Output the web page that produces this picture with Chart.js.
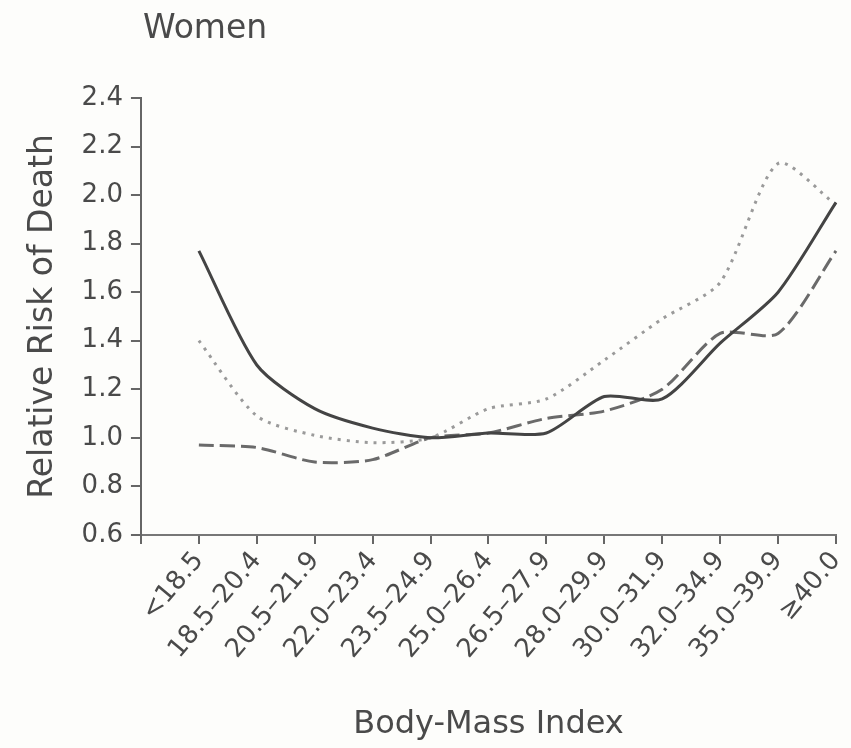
<!DOCTYPE html>
<html>
<head>
<meta charset="utf-8">
<script src="https://cdn.jsdelivr.net/npm/chart.js@4.4.1/dist/chart.umd.min.js"></script>
<style>
  html, body { margin: 0; padding: 0; background: #fdfdfb; }
  #wrap { width: 851px; height: 748px; }
</style>
</head>
<body>
<div id="wrap"><canvas id="chart"></canvas></div>
<script>
// BMI categories (women)
const categories = ['<18.5', '18.5\u201320.4', '20.5\u201321.9', '22.0\u201323.4', '23.5\u201324.9',
  '25.0\u201326.4', '26.5\u201327.9', '28.0\u201329.9', '30.0\u201331.9', '32.0\u201334.9',
  '35.0\u201339.9', '\u226540.0'];

// relative risk per series
const solidRisk  = [1.77, 1.30, 1.12, 1.04, 1.00, 1.02, 1.02, 1.17, 1.16, 1.39, 1.60, 1.97];
const dottedRisk = [1.40, 1.09, 1.01, 0.98, 1.00, 1.12, 1.16, 1.32, 1.49, 1.64, 2.13, 1.96];
const dashedRisk = [0.97, 0.96, 0.90, 0.91, 1.00, 1.02, 1.08, 1.11, 1.20, 1.43, 1.43, 1.77];

const yTicks = [0.6, 0.8, 1.0, 1.2, 1.4, 1.6, 1.8, 2.0, 2.2, 2.4];

Chart.defaults.font.family = '"DejaVu Sans", sans-serif';
Chart.defaults.color = '#4a4a4a';

// first slot left empty so the first point sits one step right of the y axis
const labels = [''].concat(categories);
const pad = arr => [null].concat(arr);

// "Women" panel title, lined up with the y axis
const panelTitle = {
  id: 'panelTitle',
  afterDraw(chart) {
    const ctx = chart.ctx;
    ctx.save();
    ctx.font = '33px "DejaVu Sans", sans-serif';
    ctx.fillStyle = '#4a4a4a';
    ctx.textBaseline = 'middle';
    ctx.fillText('Women', chart.chartArea.left + 2, 29);
    ctx.restore();
  }
};

new Chart(document.getElementById('chart'), {
  type: 'line',
  data: {
    labels: labels,
    datasets: [
      { label: 'solid', data: pad(solidRisk), borderColor: '#444', borderWidth: 3 },
      { label: 'dotted', data: pad(dottedRisk), borderColor: '#9a9a9a', borderWidth: 3, borderDash: [3, 6] },
      { label: 'dashed', data: pad(dashedRisk), borderColor: '#6a6a6a', borderWidth: 3, borderDash: [15, 6] }
    ]
  },
  options: {
    responsive: true,
    maintainAspectRatio: false,
    animation: false,
    layout: { padding: { top: 98, right: 15, left: 20, bottom: 0 } },
    elements: {
      point: { radius: 0 },
      line: { tension: 0.25, fill: false }
    },
    plugins: { legend: { display: false }, tooltip: { enabled: false } },
    scales: {
      x: {
        offset: false,
        // rotated labels end at their tick, so no extra room is needed on the right
        afterFit(axis) { axis.paddingRight = 0; },
        grid: { drawOnChartArea: false, tickLength: 9, color: '#666', lineWidth: 2 },
        border: { color: '#777', width: 2 },
        ticks: { font: { size: 26 }, minRotation: 50, maxRotation: 50, autoSkip: false, padding: 2 },
        title: { display: true, text: 'Body-Mass Index', font: { size: 32 }, padding: { top: 39 } }
      },
      y: {
        min: 0.6, max: 2.4,
        afterBuildTicks(axis) { axis.ticks = yTicks.map(v => ({ value: v })); },
        grid: { drawOnChartArea: false, tickLength: 10, color: '#666', lineWidth: 2 },
        border: { color: '#666', width: 2 },
        ticks: { font: { size: 26 }, padding: 8, callback: v => v.toFixed(1) },
        title: { display: true, text: 'Relative Risk of Death', font: { size: 33 }, padding: { bottom: 10 } }
      }
    }
  },
  plugins: [panelTitle]
});
</script>
</body>
</html>
